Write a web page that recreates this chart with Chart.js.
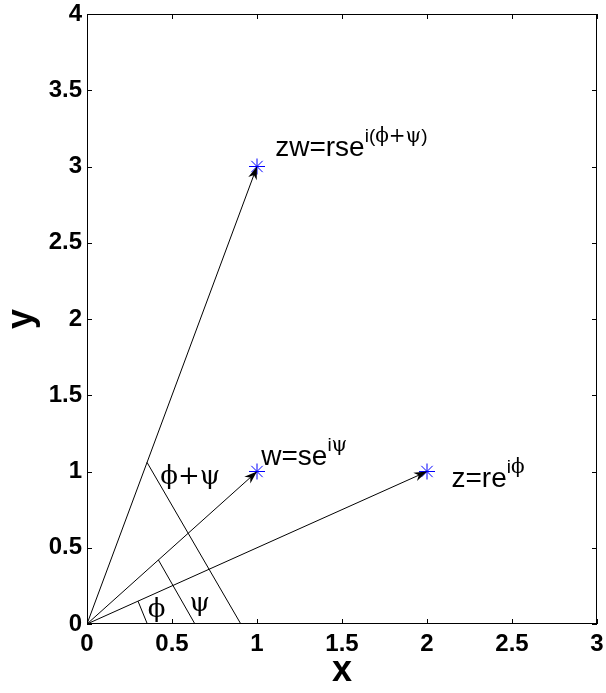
<!DOCTYPE html>
<html>
<head>
<meta charset="utf-8">
<style>
  html, body { margin: 0; padding: 0; background: #fff; }
  #wrap { width: 606px; height: 693px; }
</style>
<script src="https://cdn.jsdelivr.net/npm/chart.js"></script>
</head>
<body>
<div id="wrap"><canvas id="c" width="606" height="693"></canvas></div>
<script>
const xTicks = [0, 0.5, 1, 1.5, 2, 2.5, 3]
const yTicks = [0, 0.5, 1, 1.5, 2, 2.5, 3, 3.5, 4]

// the three complex numbers z, w, zw
const vecX = [1, 1, 2]
const vecY = [3, 1, 1]
const vecBase = ['zw=rse', 'w=se', 'z=re']
const vecSup = ['i(ϕ+ψ)', 'iψ', 'iϕ']
const vecLabelX = [1.107, 1.025, 2.144]
const vecLabelY = [3.069, 1.043, 0.898]

// angle marker segments
const segX0 = [0.30, 0.42, 0.353]
const segY0 = [0.15, 0.42, 1.06]
const segX1 = [0.355, 0.635, 0.905]
const segY1 = [0, 0, 0]
const angleNames = ['ϕ', 'ψ', 'ϕ+ψ']
const angleX = [0.357, 0.603, 0.431]
const angleY = [0.046, 0.085, 0.919]

const SANS = '"Liberation Sans", Arial, sans-serif'
const SERIF = '"DejaVu Serif", "Liberation Serif", serif'

const datasets = []
datasets.push({
    type: 'scatter',
    data: vecX.map((x, i) => ({ x: x, y: vecY[i] })),
    pointStyle: 'star',
    pointRadius: 8,
    borderColor: '#0000ff',
    backgroundColor: '#0000ff',
    borderWidth: 1,
})
vecX.forEach((x, i) => {
    datasets.push({
        type: 'line',
        data: [{ x: 0, y: 0 }, { x: x, y: vecY[i] }],
        borderColor: '#000',
        borderWidth: 1,
        pointRadius: 0,
        fill: false,
    })
})
segX0.forEach((x, i) => {
    datasets.push({
        type: 'line',
        data: [{ x: x, y: segY0[i] }, { x: segX1[i], y: segY1[i] }],
        borderColor: '#000',
        borderWidth: 1,
        pointRadius: 0,
        fill: false,
    })
})

// draws a string char by char, greek letters and + in serif
function drawRich(ctx, text, x, y, size) {
    let cx = x
    for (const ch of text) {
        const serif = /[ϕψ+]/.test(ch)
        ctx.font = (serif ? size + 1 : size) + 'px ' + (serif ? SERIF : SANS)
        ctx.fillText(ch, cx, y)
        cx += ctx.measureText(ch).width
    }
    return cx
}

const extras = {
    id: 'extras',
    afterDatasetsDraw(chart) {
        const ctx = chart.ctx
        const xs = chart.scales.x, ys = chart.scales.y
        const a = chart.chartArea
        ctx.save()
        // box
        ctx.strokeStyle = '#000'
        ctx.lineWidth = 1
        ctx.strokeRect(a.left + 0.5, a.top + 0.5, a.right - a.left - 1, a.bottom - a.top - 1)
        // inward ticks
        ctx.beginPath()
        xs.ticks.forEach(t => {
            const px = Math.round(xs.getPixelForValue(t.value)) + 0.5
            ctx.moveTo(px, a.bottom); ctx.lineTo(px, a.bottom - 5)
            ctx.moveTo(px, a.top); ctx.lineTo(px, a.top + 5)
        })
        ys.ticks.forEach(t => {
            const py = Math.round(ys.getPixelForValue(t.value)) + 0.5
            ctx.moveTo(a.left, py); ctx.lineTo(a.left + 5, py)
            ctx.moveTo(a.right, py); ctx.lineTo(a.right - 5, py)
        })
        ctx.stroke()
        // arrow heads
        ctx.fillStyle = '#000'
        vecX.forEach((x, i) => {
            const x0 = xs.getPixelForValue(0), y0 = ys.getPixelForValue(0)
            const x1 = xs.getPixelForValue(x), y1 = ys.getPixelForValue(vecY[i])
            const ang = Math.atan2(y1 - y0, x1 - x0)
            ctx.save()
            ctx.translate(x1, y1)
            ctx.rotate(ang)
            ctx.beginPath()
            ctx.moveTo(0, 0)
            ctx.lineTo(-13, -4.5)
            ctx.lineTo(-9, 0)
            ctx.lineTo(-13, 4.5)
            ctx.closePath()
            ctx.fill()
            ctx.restore()
        })
        // labels
        ctx.textBaseline = 'alphabetic'
        ctx.textAlign = 'left'
        vecBase.forEach((s, i) => {
            const px = xs.getPixelForValue(vecLabelX[i])
            const py = ys.getPixelForValue(vecLabelY[i])
            ctx.font = '28px ' + SANS
            ctx.fillText(s, px, py)
            const w = ctx.measureText(s).width
            drawRich(ctx, vecSup[i], px + w, py - 14, 19)
        })
        angleNames.forEach((s, i) => {
            const px = xs.getPixelForValue(angleX[i])
            const py = ys.getPixelForValue(angleY[i])
            ctx.font = '26px ' + SERIF
            ctx.fillText(s, px, py)
        })
        ctx.restore()
    }
}

const tickFmt = v => String(v)

new Chart(document.getElementById('c'), {
    data: { datasets: datasets },
    options: {
        responsive: false,
        animation: false,
        devicePixelRatio: 1,
        layout: { padding: { top: 14, right: 7, left: 0, bottom: 0 } },
        plugins: { legend: { display: false }, tooltip: { enabled: false } },
        scales: {
            x: {
                type: 'linear',
                min: 0, max: 3,
                afterBuildTicks: s => { s.ticks = xTicks.map(v => ({ value: v })) },
                afterFit: s => { s.height = 69; s.paddingLeft = 0; s.paddingRight = 0 },
                grid: { display: false, drawTicks: false },
                border: { display: false },
                ticks: { color: '#000', padding: 6, callback: tickFmt, font: { family: SANS, size: 24, weight: 'bold' } },
                title: { display: true, text: 'x', color: '#000', padding: 0, font: { family: SANS, size: 36, weight: 'bold' } },
            },
            y: {
                type: 'linear',
                min: 0, max: 4,
                afterBuildTicks: s => { s.ticks = yTicks.map(v => ({ value: v })) },
                afterFit: s => { s.width = 87; s.paddingTop = 0; s.paddingBottom = 0 },
                grid: { display: false, drawTicks: false },
                border: { display: false },
                ticks: { color: '#000', padding: 5, callback: tickFmt, font: { family: SANS, size: 24, weight: 'bold' } },
                title: { display: true, text: 'y', color: '#000', padding: 0, font: { family: SANS, size: 36, weight: 'bold' } },
            },
        },
    },
    plugins: [extras],
})
</script>
</body>
</html>
